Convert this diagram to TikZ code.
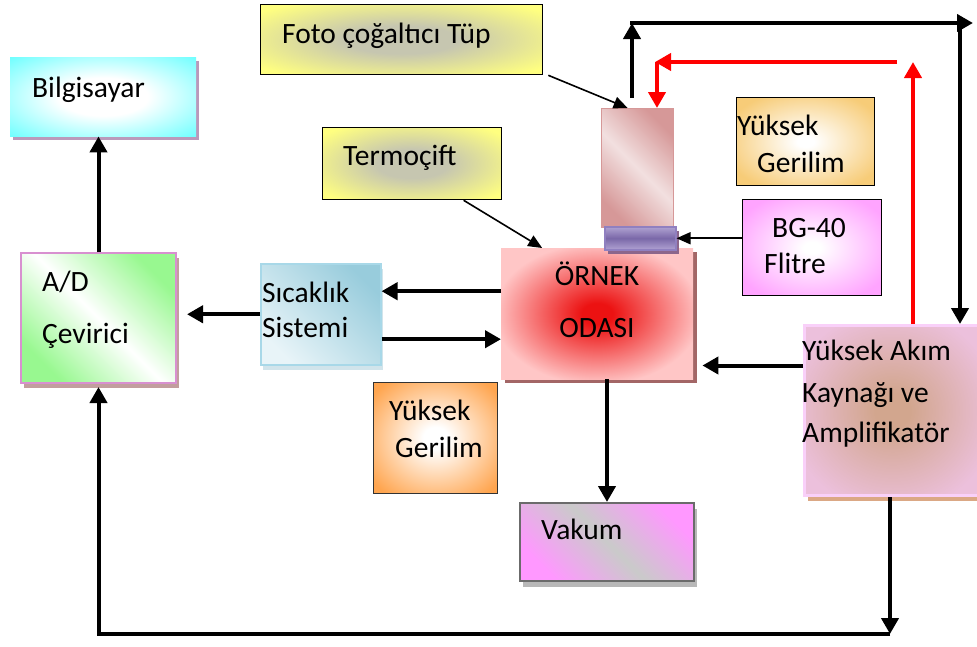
\documentclass[tikz,border=0pt]{standalone}
\usepackage{fontspec}
\setmainfont{Carlito}
\usetikzlibrary{arrows.meta,shadows}
\definecolor{cyanout}{HTML}{6CFFFF}
\definecolor{yelout}{HTML}{FFFF80}
\definecolor{yelin}{HTML}{C6C6B0}
\definecolor{ornout}{HTML}{FFC6C6}
\definecolor{ornin}{HTML}{EC1212}
\definecolor{orgout}{HTML}{FFA54F}
\definecolor{tanout}{HTML}{F7CC78}
\definecolor{bgout}{HTML}{FFA4FF}
\definecolor{akout}{HTML}{ECC0DC}
\definecolor{akin}{HTML}{D2A68E}
\definecolor{akedge}{HTML}{F9D0F9}
\definecolor{adgreen}{HTML}{98F890}
\definecolor{adedge}{HTML}{D890D0}
\definecolor{sicdark}{HTML}{98CCDC}
\definecolor{siclight}{HTML}{E8F4F8}
\definecolor{sicedge}{HTML}{A8D8E8}
\definecolor{vakpink}{HTML}{FF98FF}
\definecolor{vakgray}{HTML}{CACACA}
\definecolor{pmtdark}{HTML}{D69898}
\definecolor{pmtlight}{HTML}{F2E0E0}
\definecolor{filtlight}{HTML}{B0A2D2}
\definecolor{filtdark}{HTML}{7A68A8}
\definecolor{filtedge}{HTML}{9080C0}
\pgfdeclareradialshading{bilgsh}{\pgfpoint{0bp}{0bp}}{color(0bp)=(white);color(12bp)=(white);color(36bp)=(cyanout);color(50bp)=(cyanout)}
\pgfdeclareradialshading{yelsh}{\pgfpoint{0bp}{0bp}}{color(0bp)=(yelin);color(10bp)=(yelin);color(32bp)=(yelout);color(50bp)=(yelout)}
\pgfdeclareradialshading{ornsh}{\pgfpoint{0bp}{0bp}}{color(0bp)=(ornin);color(4bp)=(ornin);color(27bp)=(ornout);color(50bp)=(ornout)}
\pgfdeclareradialshading{orgsh}{\pgfpoint{0bp}{0bp}}{color(0bp)=(white);color(5bp)=(white);color(32bp)=(orgout);color(50bp)=(orgout)}
\pgfdeclareradialshading{tansh}{\pgfpoint{0bp}{0bp}}{color(0bp)=(white);color(3bp)=(white);color(30bp)=(tanout);color(50bp)=(tanout)}
\pgfdeclareradialshading{bgsh}{\pgfpoint{0bp}{0bp}}{color(0bp)=(white);color(3bp)=(white);color(30bp)=(bgout);color(50bp)=(bgout)}
\pgfdeclareradialshading{aksh}{\pgfpoint{0bp}{0bp}}{color(0bp)=(akin);color(5bp)=(akin);color(30bp)=(akout);color(50bp)=(akout)}
\tikzset{
  box/.style={rectangle, inner sep=0pt, anchor=north west},
  txt/.style={inner sep=0pt, anchor=base west, font=\fontsize{29.5}{35}\selectfont},
  ctxt/.style={txt, anchor=base},
  bar/.style={line width=4pt, -{Triangle[length=16pt,width=17pt]}},
  redbar/.style={bar, draw=red},
  lnk/.style={line width=1.6pt, -{Triangle[length=14pt,width=12pt]}},
}
\begin{document}
\begin{tikzpicture}[x=1pt,y=-1pt]
\useasboundingbox (0,0) rectangle (977,646);
% boxes
\node[box, minimum width=186pt, minimum height=79pt, shading=bilgsh,
  general shadow={fill=black!35!violet!40!white, shadow xshift=3pt, shadow yshift=-4pt}] (bilg) at (10,57) {};
\node[box, minimum width=282pt, minimum height=70pt, shading=yelsh, draw=black, line width=1.3pt] (foto) at (260,4) {};
\node[box, minimum width=179pt, minimum height=72pt, shading=yelsh, draw=black, line width=1.3pt] (termo) at (322,127) {};
\node[box, minimum width=155pt, minimum height=130pt, top color=adgreen, bottom color=adgreen, middle color=white, shading angle=-45, draw=adedge, line width=2pt,
  general shadow={fill=black!30!pink!80!white, shadow xshift=3pt, shadow yshift=-5pt}] (ad) at (20,252) {};
\node[box, minimum width=120pt, minimum height=101pt, top color=sicdark, bottom color=siclight, shading angle=-45, draw=sicedge, line width=1.5pt,
  general shadow={fill=black!40!cyan!20!white, shadow xshift=2pt, shadow yshift=-5pt}] (sic) at (260,263) {};
\node[box, minimum width=192pt, minimum height=131pt, shading=ornsh,
  general shadow={fill=black!60!red!60!white, shadow xshift=4pt, shadow yshift=-4pt}] (ornek) at (501,248) {};
\node[box, minimum width=124pt, minimum height=111pt, shading=orgsh, draw=black!80, line width=1.3pt] (orange) at (373,382) {};
\node[box, minimum width=174pt, minimum height=78pt, top color=vakpink, bottom color=vakpink, middle color=vakgray, shading angle=-45, draw=black!58, line width=2pt,
  general shadow={fill=black!28, shadow xshift=3pt, shadow yshift=-6pt}] (vakum) at (519,502) {};
\node[box, minimum width=176pt, minimum height=170pt, shading=aksh, draw=akedge, line width=3pt,
  general shadow={fill=brown!70!pink!80!white, shadow xshift=3pt, shadow yshift=-5pt}] (akim) at (803,324) {};
\node[box, minimum width=138pt, minimum height=88pt, shading=tansh, draw=black, line width=1.3pt] (tan) at (736,97) {};
\node[box, minimum width=139pt, minimum height=96pt, shading=bgsh, draw=black, line width=1.3pt] (bg) at (742,199) {};
\node[box, minimum width=72pt, minimum height=119pt, top color=pmtdark, bottom color=pmtdark, middle color=pmtlight, shading angle=-45, draw=pmtdark, line width=1.2pt] (pmt) at (601,108) {};
\node[box, minimum width=71pt, minimum height=23pt, top color=filtlight, bottom color=filtlight, middle color=filtdark, draw=filtedge, line width=1.5pt,
  general shadow={fill=black!50!violet!60!white, shadow xshift=3pt, shadow yshift=-4pt}] (filt) at (604,226) {};
% texts
\node[txt] (tbilg) at (32,97) {Bilgisayar};
\node[txt] (tfoto) at (282,43) {Foto çoğaltıcı Tüp};
\node[txt] (ttermo) at (343,165) {Termoçift};
\node[txt] (tad1) at (42,291) {A/D};
\node[txt] (tad2) at (42,343) {Çevirici};
\node[txt] (tsic1) at (262,302) {Sıcaklık};
\node[txt] (tsic2) at (262,337) {Sistemi};
\node[ctxt] (torn1) at (597,285) {ÖRNEK};
\node[ctxt] (torn2) at (597,337) {ODASI};
\node[txt] (torg1) at (389,420) {Yüksek};
\node[txt] (torg2) at (395,457) {Gerilim};
\node[txt] (tvak) at (541,539) {Vakum};
\node[txt] (tak1) at (802,360) {Yüksek Akım};
\node[txt] (tak2) at (802,402) {Kaynağı ve};
\node[txt] (tak3) at (802,442) {Amplifikatör};
\node[txt] (ttan1) at (737,135) {Yüksek};
\node[txt] (ttan2) at (757,172) {Gerilim};
\node[txt] (tbg1) at (772,237) {BG-40};
\node[txt] (tbg2) at (764,273) {Flitre};
% coordinates
\coordinate (bot) at (890,634);
\coordinate (tl) at (632,23);
\coordinate (tr) at (973,23);
\coordinate (trv) at (960,23);
\coordinate (rv) at (913,62);
\coordinate (rh) at (897,62);
\coordinate (rc) at (657,62);
% connectors
\draw[bar] (ad.north) -- (ad.north |- bilg.south);
\draw[bar, shorten >=10pt] (sic.west) -- (sic.west -| ad.east);
\draw[bar] ([yshift=22.5pt]ornek.west) -- ([yshift=22.5pt]ornek.west -| sic.east);
\draw[bar] ([yshift=-25.5pt]ornek.west -| sic.east) -- ([yshift=-25.5pt]ornek.west);
\draw[bar, shorten >=9pt] ([yshift=45pt]akim.west) -- ([yshift=45pt]akim.west -| ornek.east);
\draw[bar] (vakum.north |- ornek.south) -- (vakum.north);
\draw[bar] (akim.south -| bot) -- (bot);
\draw[bar] (bot) -- (bot -| ad.south) -- ([yshift=-3pt]ad.south);
\draw[lnk] ([xshift=51.5pt]termo.south) -- ([xshift=-55pt]ornek.north);
\draw[lnk] ([xshift=5pt]foto.south east) -- ([xshift=-10pt]pmt.north);
\draw[lnk] (bg.west |- filt.east) -- (filt.east);
\draw[bar] ([yshift=10pt]pmt.north -| tl) -- (tl);
\draw[bar] ([xshift=-2pt]tl) -- (tr);
\draw[bar] (trv) -- (akim.north -| trv);
\draw[redbar] (akim.north -| rv) -- (rv);
\draw[redbar] (rh) -- ([xshift=-2pt]rc);
\draw[redbar] (rc) -- (pmt.north -| rc);
\end{tikzpicture}
\end{document}
